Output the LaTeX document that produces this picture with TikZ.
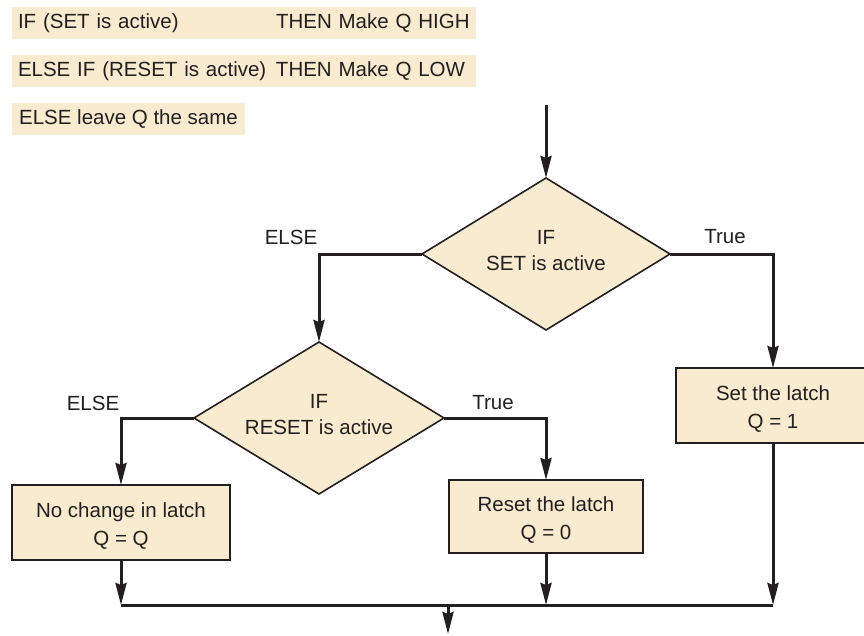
\documentclass[tikz,border=0pt]{standalone}
\usepackage{fontspec}
\setmainfont{Liberation Sans}
\usetikzlibrary{shapes.geometric,arrows.meta}
\definecolor{beige}{HTML}{F8EBCF}
\definecolor{ink}{HTML}{231F20}
\newcommand{\dnstrut}{\rule[-8pt]{0pt}{0pt}}
\newcommand{\upstrut}{\rule{0pt}{22pt}}
\begin{document}
\begin{tikzpicture}[x=1pt,y=-1pt,
  font=\fontsize{20.5}{27}\selectfont, text=ink,
  every node/.style={outer sep=0pt},
  tbox/.style={fill=beige, inner xsep=6pt, inner ysep=0pt, minimum height=32pt, align=left},
  dec/.style={diamond, draw=ink, fill=beige, line width=1.6pt, inner sep=0pt, align=center},
  proc/.style={rectangle, draw=ink, fill=beige, line width=1.8pt, align=center, inner sep=0pt},
  conn/.style={draw=ink, line width=3pt},
  arr/.style={conn, -{Stealth[length=22pt,width=11pt,inset=2pt]}},
  lbl/.style={inner sep=0pt}
]
\useasboundingbox (0,0) rectangle (864,635);

% pseudo-code boxes
\node[tbox, anchor=west, text width=452pt] (t1) at (12,23)
  {\makebox[258pt][l]{IF (SET is active)}THEN Make Q HIGH};
\node[tbox, anchor=west, text width=452pt] (t2) at (12,71)
  {\makebox[258pt][l]{ELSE IF (RESET is active)}THEN Make Q LOW};
\node[tbox, anchor=west, minimum width=233pt] (t3) at (12,119)
  {ELSE leave Q the same};

% flowchart
\node[dec, minimum width=248pt, minimum height=152pt, aspect=1.63] (d1) at (546,254)
  {IF\\[-1pt]SET is active\dnstrut};
\node[dec, minimum width=250pt, minimum height=152pt, aspect=1.64] (d2) at (319,418)
  {IF\\[-1pt]RESET is active\dnstrut};
\node[proc, minimum width=194pt, minimum height=75pt] (setb) at (773,405.5)
  {\upstrut Set the latch\\[1pt]Q = 1};
\node[proc, minimum width=218pt, minimum height=75pt] (noch) at (121,522.5)
  {\upstrut No change in latch\\[1pt]Q = Q};
\node[proc, minimum width=194pt, minimum height=73pt] (rst) at (546,516.5)
  {\upstrut Reset the latch\\[1pt]Q = 0};

\coordinate (start) at (546,105);
\coordinate (jL) at (121,605);
\coordinate (jM) at (546,605);
\coordinate (jR) at (773,605);
\coordinate (jO) at (448,605);
\coordinate (out) at (448,634);

\draw[arr] (start) -- (d1.north);
\draw[arr] (d1.west) -| (d2.north);
\draw[arr] (d1.east) -| (setb.north);
\draw[arr] (d2.west) -| (noch.north);
\draw[arr] (d2.east) -| (rst.north);
\draw[arr] (noch.south) -- (jL);
\draw[arr] (rst.south) -- (jM);
\draw[arr] (setb.south) -- (jR);
\draw[conn] (jL) -- (jR);
\draw[arr] (jO) -- (out);

\node[lbl] (e1) at (291,237) {ELSE};
\node[lbl] (tr1) at (725,237) {True};
\node[lbl] (e2) at (93,403) {ELSE};
\node[lbl] (tr2) at (493,403) {True};
\end{tikzpicture}
\end{document}
